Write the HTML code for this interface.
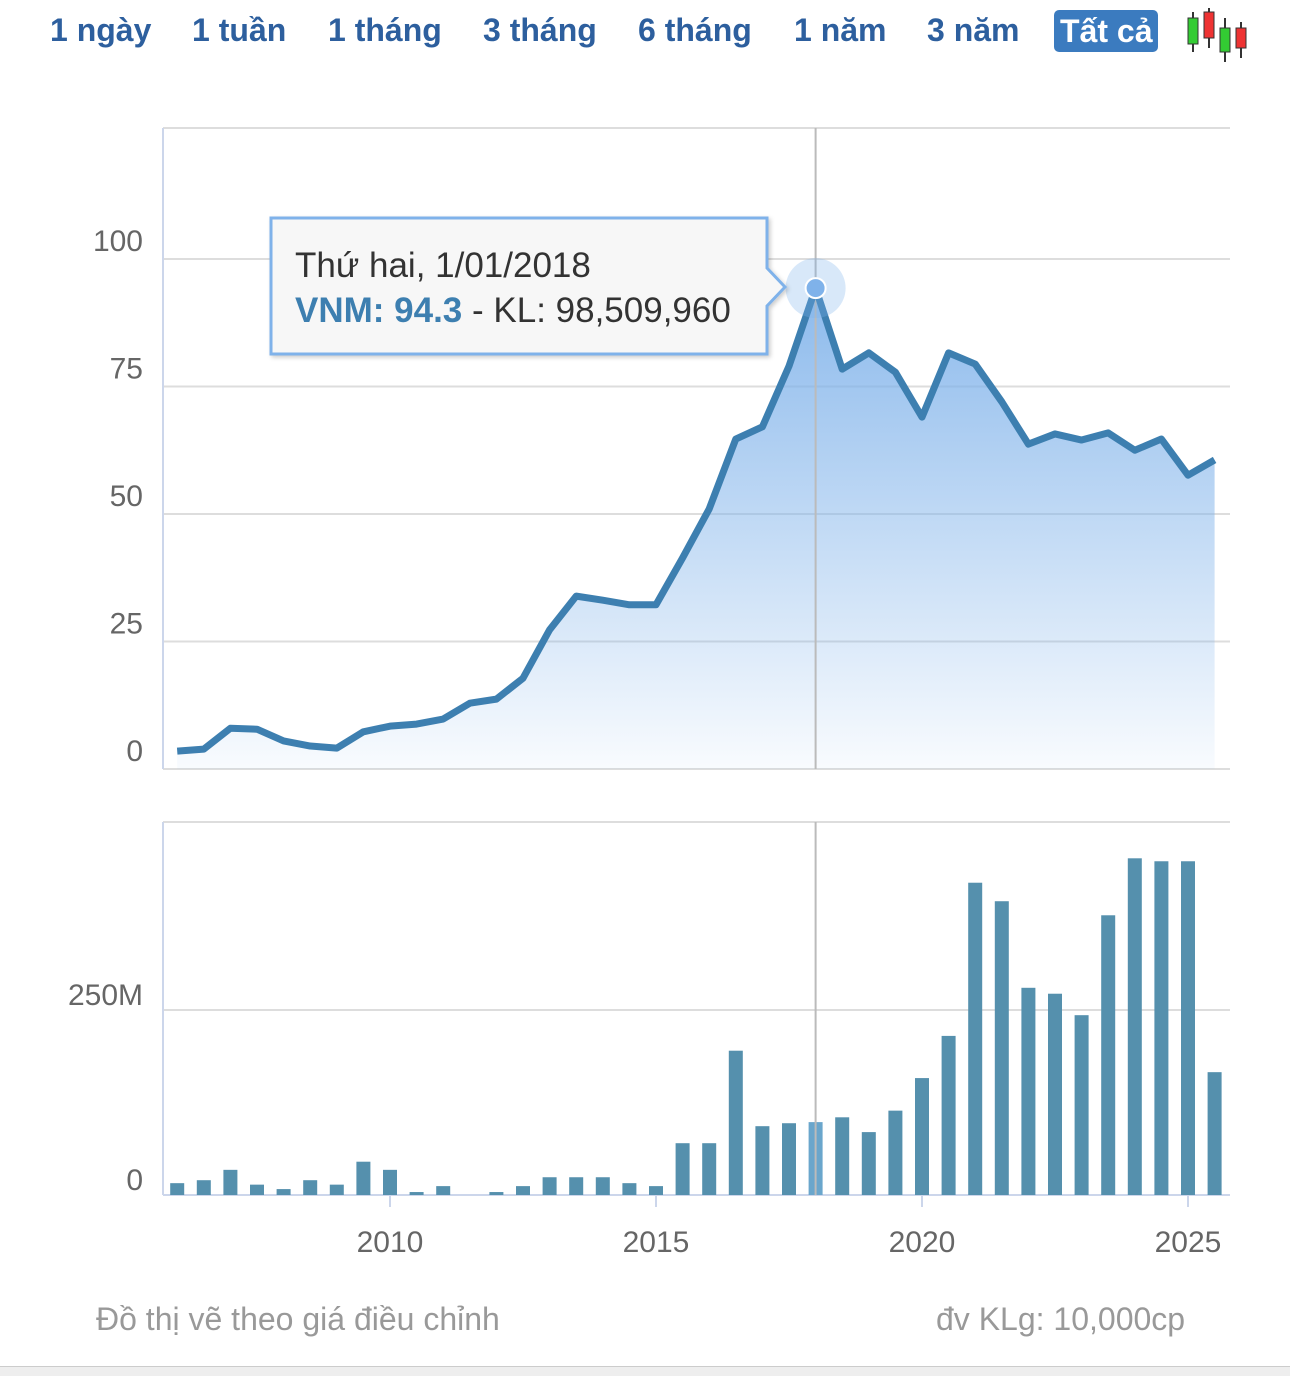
<!DOCTYPE html>
<html><head><meta charset="utf-8"><style>
body{margin:0;width:1290px;height:1375px;background:#fff;font-family:"Liberation Sans",sans-serif;position:relative;overflow:hidden}
.btn{position:absolute;top:12px;font-size:32px;font-weight:bold;color:#2d5f9e}
.sel{background:#3b7bbf;color:#fff;border-radius:5px;padding:0 6px;top:10px;line-height:42px}
</style></head><body>
<div class="btn" style="left:50px">1 ngày</div>
<div class="btn" style="left:192px">1 tuần</div>
<div class="btn" style="left:328px">1 tháng</div>
<div class="btn" style="left:483px">3 tháng</div>
<div class="btn" style="left:638px">6 tháng</div>
<div class="btn" style="left:794px">1 năm</div>
<div class="btn" style="left:927px">3 năm</div>
<div class="btn sel" style="left:1054px">Tất cả</div>
<svg style="position:absolute;left:1184px;top:8px" width="66" height="56">
<line x1="9" y1="4" x2="9" y2="44" stroke="#333" stroke-width="2"/><rect x="4" y="10" width="10" height="26" fill="#3c3" stroke="#333"/>
<line x1="25" y1="0" x2="25" y2="40" stroke="#333" stroke-width="2"/><rect x="20" y="4" width="10" height="26" fill="#e33" stroke="#333"/>
<line x1="41" y1="10" x2="41" y2="54" stroke="#333" stroke-width="2"/><rect x="36" y="20" width="10" height="24" fill="#3c3" stroke="#333"/>
<line x1="57" y1="14" x2="57" y2="50" stroke="#333" stroke-width="2"/><rect x="52" y="20" width="10" height="20" fill="#e33" stroke="#333"/>
</svg>
<svg id="chart" width="1290" height="1375" style="position:absolute;left:0;top:0">
<defs><linearGradient id="g" x1="0" y1="0" x2="0" y2="1"><stop offset="0" stop-color="#7fb2ea" stop-opacity="0.9"/><stop offset="1" stop-color="#7fb2ea" stop-opacity="0.05"/></linearGradient>
<filter id="sh"><feDropShadow dx="2" dy="2" stdDeviation="2" flood-opacity="0.2"/></filter></defs>
</svg>
<div style="position:absolute;left:96px;top:1301px;font-size:32px;color:#999">Đồ thị vẽ theo giá điều chỉnh</div>
<div style="position:absolute;left:936px;top:1301px;font-size:32px;color:#999">đv KLg: 10,000cp</div>
<div style="position:absolute;left:0;top:1366px;width:1290px;height:9px;background:#eee;border-top:1px solid #ccc"></div>
<script>
const startYear=2006.0;
const prices=[3.5,3.9,8.0,7.8,5.5,4.5,4.1,7.3,8.4,8.8,9.8,12.9,13.7,17.8,27.3,33.9,33.1,32.2,32.2,41.4,51.0,64.7,67.1,79.0,94.3,78.4,81.6,77.8,69.0,81.6,79.4,72.0,63.7,65.7,64.5,65.9,62.5,64.7,57.6,60.6];
const volumes=[16,20,34,14,8,20,14,45,34,4,12,0,4,12,24,24,24,16,12,70,70,195,93,97,98.5,105,85,114,158,215,422,397,280,272,243,378,455,451,451,166];
const priceTicks=[0,25,50,75,100];
const volTicks=[0,250];
const yearTicks=[2010,2015,2020,2025];
const hoverIndex=24;
const NS="http://www.w3.org/2000/svg",svg=document.getElementById('chart');
const X=t=>390+(t-2010)*53.2;
const xi=i=>X(startYear+i*0.5);
const Y=v=>769-v*5.1;
const V=v=>1195-v*0.74;
function mk(tag,a){const e=document.createElementNS(NS,tag);for(const k in a)e.setAttribute(k,a[k]);svg.appendChild(e);return e;}
function txt(x,y,s,anchor,size,fill){const e=mk('text',{x:x,y:y,'text-anchor':anchor,'font-size':size,fill:fill,'font-family':'Liberation Sans, sans-serif'});e.textContent=s;return e;}
let e=mk('line',{x1:163,x2:1230,y1:128,y2:128,stroke:'#ddd','stroke-width':2});

priceTicks.forEach(v=>{const l=mk('line',{x1:163,x2:1230,y1:Y(v),y2:Y(v),stroke:'#ddd','stroke-width':2});

const t=txt(143,Y(v)-8,String(v),'end',30,'#666');
});
e=mk('line',{x1:163,x2:1230,y1:822,y2:822,stroke:'#ddd','stroke-width':2});

volTicks.forEach(v=>{const l=mk('line',{x1:163,x2:1230,y1:V(v),y2:V(v),stroke:v?'#ddd':'#ccd6eb','stroke-width':2});

const t=txt(143,V(v)-5,v?v+'M':'0','end',30,'#666');
});
e=mk('line',{x1:163,x2:163,y1:128,y2:769,stroke:'#ccd6eb','stroke-width':2});

e=mk('line',{x1:163,x2:163,y1:822,y2:1195,stroke:'#ccd6eb','stroke-width':2});

yearTicks.forEach(y=>{const l=mk('line',{x1:X(y),x2:X(y),y1:1195,y2:1207,stroke:'#ccd6eb','stroke-width':2});

const t=txt(X(y),1252,String(y),'middle',30,'#666');
});
let d=prices.map((v,i)=>(i?'L':'M')+xi(i)+','+Y(v)).join('');
e=mk('path',{d:d+'L'+xi(prices.length-1)+',769L'+xi(0)+',769Z',fill:'url(#g)'});

volumes.forEach((v,i)=>{if(!v)return;const b=mk('rect',{x:xi(i)-7,y:V(v),width:14,height:1195-V(v),fill:i==hoverIndex?'#6aa6cc':'#5590ad'});
});
e=mk('line',{x1:xi(hoverIndex),x2:xi(hoverIndex),y1:128,y2:769,stroke:'#bbb','stroke-width':2});

e=mk('line',{x1:xi(hoverIndex),x2:xi(hoverIndex),y1:822,y2:1195,stroke:'#bbb','stroke-width':2});

e=mk('path',{d:d,fill:'none',stroke:'#3d7fb0','stroke-width':7,'stroke-linejoin':'round'});

e=mk('circle',{cx:xi(hoverIndex),cy:Y(prices[hoverIndex]),r:30,fill:'#7fb2ea','fill-opacity':0.3});

e=mk('circle',{cx:xi(hoverIndex),cy:Y(prices[hoverIndex]),r:10,fill:'#7fb2ea',stroke:'#fff','stroke-width':2});

e=mk('path',{d:'M271,218H767V268L785,287L767,306V354H271Z',fill:'#f7f7f7',stroke:'#7fb2ea','stroke-width':3,filter:'url(#sh)'});

e=txt(295,277,'Thứ hai, 1/01/2018','start',35,'#333');

e=mk('text',{x:295,y:322,'font-size':35,fill:'#333','font-family':'Liberation Sans, sans-serif'});
e.innerHTML='<tspan fill="#3d7fb0" font-weight="bold">VNM: '+prices[hoverIndex]+'</tspan> - KL: 98,509,960';

</script>
</body></html>
